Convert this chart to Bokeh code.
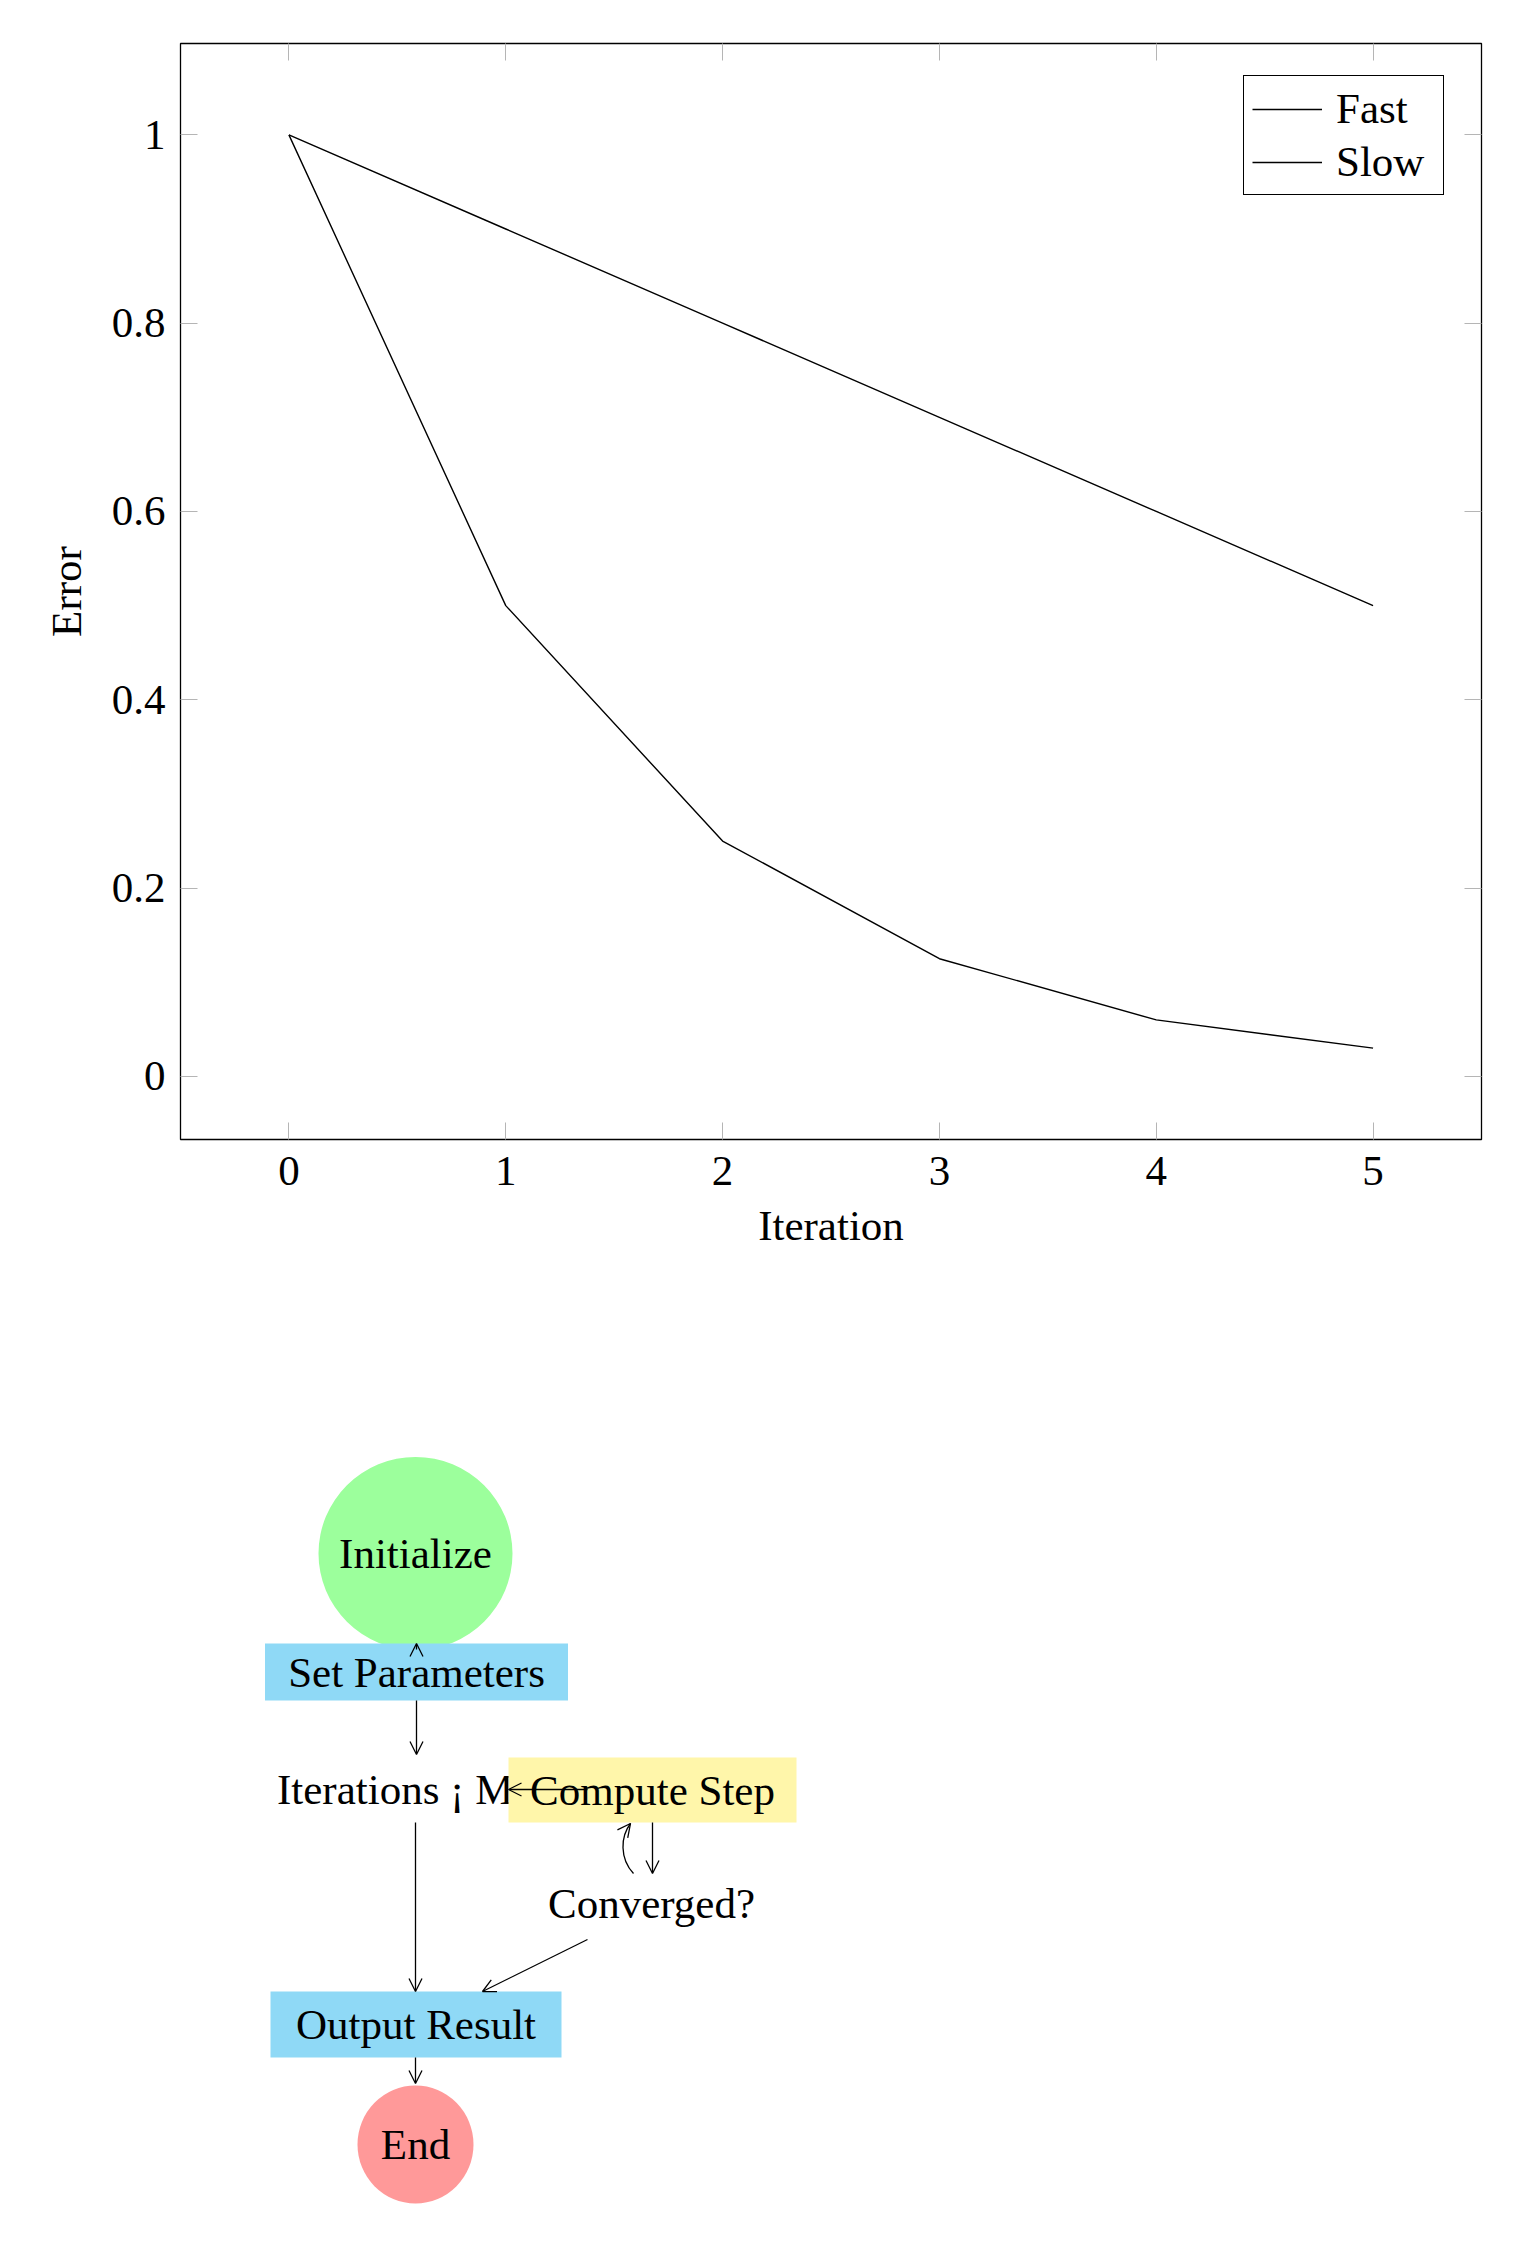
from bokeh.plotting import figure
from bokeh.layouts import column
from bokeh.models import (LinearAxis, FixedTicker, CustomJSTickFormatter, Arrow,
                          OpenHead, Range1d, Legend)
from bokeh.core.properties import value
from bokeh.embed import file_html
from bokeh.resources import INLINE

# ---------------- data ----------------
iterations = [0, 1, 2, 3, 4, 5]
fast_error = [1.0, 0.5, 0.25, 0.125, 0.06, 0.03]
slow_error = [1.0, 0.9, 0.8, 0.7, 0.6, 0.5]
x_ticks = [0, 1, 2, 3, 4, 5]
y_ticks = [0, 0.2, 0.4, 0.6, 0.8, 1]
series_names = ["Fast", "Slow"]

# flowchart nodes
node_labels = ["Initialize", "Set Parameters", "Iterations \u00a1 Max", "Compute Step",
               "Converged?", "Output Result", "End"]
node_shape = ["circle", "box", "none", "box", "none", "box", "circle"]
node_x = [415, 416, 415, 652, 651, 415.5, 415]
node_y = [1553, 1671.5, 1789, 1789.5, 1903, 2024, 2144]
node_w = [194, 303, 0, 288, 0, 291, 116]
node_h = [193, 57, 0, 65, 0, 66, 118]
node_fill = ["#9cff9c", "#8fd9f6", None, "#fff6aa", None, "#8fd9f6", "#ff9999"]

# edges (straight)
edge_x0 = [416, 416, 587, 652, 415, 587, 415]
edge_y0 = [1649, 1700, 1789, 1822, 1822, 1939, 2057]
edge_x1 = [416, 416, 508, 652, 415, 482, 415]
edge_y1 = [1643, 1754, 1789, 1873, 1991, 1991, 2083]
# curved edge Converged? -> Compute Step
curve = dict(x0=633, y0=1873, x1=630, y1=1823, cx0=619, cy0=1858, cx1=620, cy1=1836)

FONT = value("Liberation Serif")
FS = "43px"

BL, BR, BT, BB = 180, 35, 43, 145
FW, FH = 1301, 1096

# ---------------- chart ----------------
p1 = figure(frame_width=FW, frame_height=FH, x_range=(-0.5, 5.5),
            y_range=(-0.067, 1.097), output_backend="svg", toolbar_location=None,
            min_border_left=BL, min_border_top=BT, min_border_right=BR,
            min_border_bottom=BB)
p1.grid.visible = False
p1.outline_line_color = "black"
p1.outline_line_width = 1.3
p1.outline_line_alpha = 1.0

r_fast = p1.line(iterations, fast_error, line_color="black", line_width=1.4)
r_slow = p1.line(iterations, slow_error, line_color="black", line_width=1.4)

def style_axis(ax, ticks):
    ax.ticker = FixedTicker(ticks=ticks)
    ax.major_tick_in = 17
    ax.major_tick_out = 0
    ax.minor_tick_in = 0
    ax.minor_tick_out = 0
    ax.axis_line_color = None
    ax.major_tick_line_color = "#b5b5b5"
    ax.major_tick_line_width = 1
    ax.major_label_text_font = "Liberation Serif"
    ax.major_label_text_font_size = FS
    ax.major_label_text_color = "black"
    ax.axis_label_text_font = "Liberation Serif"
    ax.axis_label_text_font_size = FS
    ax.axis_label_text_font_style = "normal"
    ax.axis_label_text_color = "black"

style_axis(p1.xaxis[0], x_ticks)
style_axis(p1.yaxis[0], y_ticks)
p1.xaxis[0].axis_label = "Iteration"
p1.yaxis[0].axis_label = "Error"
p1.xaxis[0].major_label_standoff = 17
p1.yaxis[0].major_label_standoff = 15
p1.xaxis[0].axis_label_standoff = 14
p1.yaxis[0].axis_label_standoff = 19
p1.yaxis[0].formatter = CustomJSTickFormatter(code="return String(tick)")

top_ax = LinearAxis()
right_ax = LinearAxis()
style_axis(top_ax, x_ticks)
style_axis(right_ax, y_ticks)
for ax in (top_ax, right_ax):
    ax.formatter = CustomJSTickFormatter(code="return ''")
    ax.major_label_standoff = 0
p1.add_layout(top_ax, "above")
p1.add_layout(right_ax, "right")

legend = Legend(items=[(series_names[0], [r_fast]), (series_names[1], [r_slow])],
                location=(1063, 944))
legend.border_line_color = "black"
legend.border_line_width = 1.5
legend.border_line_alpha = 1.0
legend.background_fill_color = "white"
legend.background_fill_alpha = 1
legend.label_text_font = "Liberation Serif"
legend.label_text_font_size = FS
legend.label_text_color = "black"
legend.glyph_width = 70
legend.glyph_height = 44
legend.label_height = 44
legend.label_width = 99
legend.label_standoff = 14
legend.padding = 8
legend.spacing = 4
legend.margin = 0
p1.add_layout(legend, "center")

# ---------------- flowchart ----------------
TOP2 = BT + FH + BB
H2 = 945
p2 = figure(frame_width=FW, frame_height=H2, x_range=Range1d(BL, BL + FW),
            y_range=Range1d(TOP2 + H2, TOP2), output_backend="svg",
            toolbar_location=None, min_border_left=BL, min_border_right=BR,
            min_border_top=0, min_border_bottom=0)
p2.axis.visible = False
p2.grid.visible = False
p2.outline_line_color = None

for lab, shp, x, y, w, h, col in zip(node_labels, node_shape, node_x, node_y,
                                      node_w, node_h, node_fill):
    if shp == "circle":
        p2.ellipse(x=[x], y=[y], width=[w], height=[h], fill_color=col,
                   line_color=None)
    elif shp == "box":
        p2.rect(x=[x], y=[y], width=[w], height=[h], fill_color=col,
                line_color=None)
    p2.text(x=[x], y=[y], text=[lab], text_font=FONT, text_font_size=FS,
            text_align="center", text_baseline="middle", text_color="black")

head = lambda: OpenHead(size=13, line_width=1.3, line_color="black")
for x0, y0, x1, y1 in zip(edge_x0, edge_y0, edge_x1, edge_y1):
    p2.add_layout(Arrow(end=head(), x_start=x0, y_start=y0, x_end=x1, y_end=y1,
                        line_width=1.3, line_color="black"))

p2.bezier(x0=[curve["x0"]], y0=[curve["y0"]], x1=[curve["x1"]], y1=[curve["y1"]],
          cx0=[curve["cx0"]], cy0=[curve["cy0"]], cx1=[curve["cx1"]],
          cy1=[curve["cy1"]], line_color="black", line_width=1.3)
p2.add_layout(Arrow(end=head(), x_start=curve["cx1"], y_start=curve["cy1"],
                    x_end=curve["x1"], y_end=curve["y1"], line_width=0,
                    line_alpha=0))

layout = column(p1, p2, spacing=0)
open("out.html", "w").write(file_html(layout, INLINE))
